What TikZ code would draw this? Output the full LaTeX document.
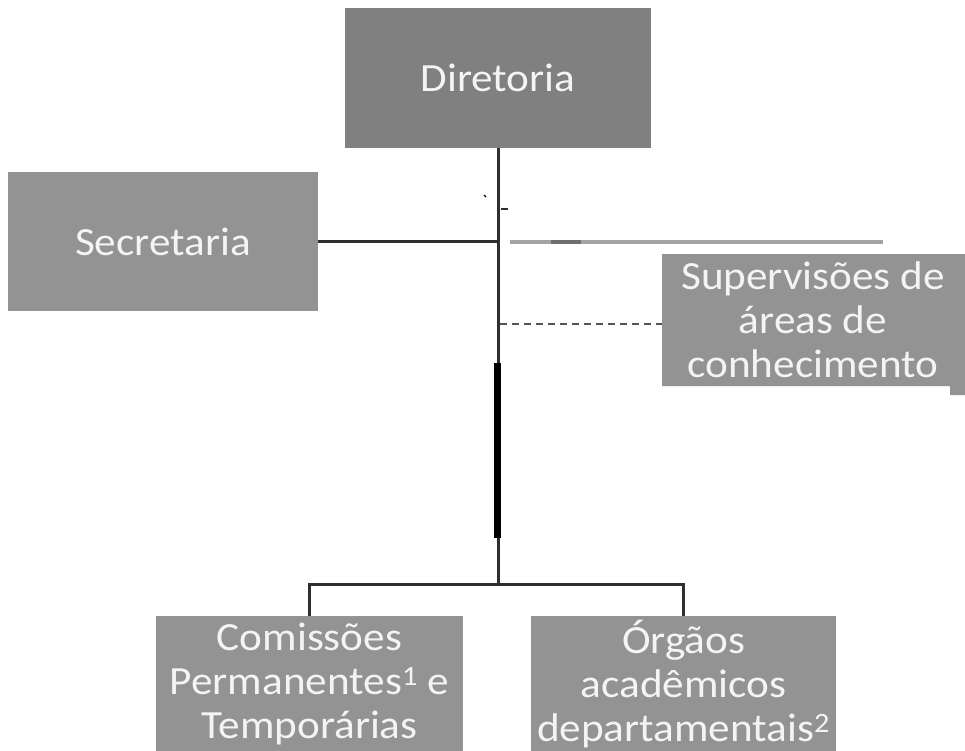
\documentclass[tikz,border=0pt]{standalone}
\usepackage{fontspec}
\setmainfont{Carlito}[FakeStretch=1.08]
\definecolor{topgray}{HTML}{808080}
\definecolor{boxgray}{HTML}{939393}
\definecolor{boxtext}{HTML}{F4F4F4}
\definecolor{linedark}{HTML}{2E2E2E}
\definecolor{lightline}{HTML}{A3A3A3}
\definecolor{midline}{HTML}{6E6E6E}
\definecolor{dashcol}{HTML}{555555}
\begin{document}
\begin{tikzpicture}[x=1pt,y=-1pt,
  orgbox/.style={fill=boxgray, text=boxtext, draw=none, inner sep=0pt,
    font=\fontsize{40}{44}\selectfont, align=center, minimum height=140pt},
  orgtext/.style={text=boxtext, inner sep=0pt,
    font=\fontsize{40}{44}\selectfont, align=center},
  conn/.style={draw=linedark, line width=3pt},
  thickconn/.style={draw=black, line width=7pt},
  dashconn/.style={draw=dashcol, line width=2.5pt, dash pattern=on 7pt off 5pt}]
\useasboundingbox (0,0) rectangle (965,751);
% boxes
\node[orgbox, fill=topgray, minimum width=306pt] (dir) at (498,78) {Diretoria};
\node[orgbox, minimum width=310pt, minimum height=139pt] (sec) at (163,241.5) {Secretaria};
\fill[boxgray] (662,254) -- (965,254) -- (965,395) -- (950,395) -- (950,386) -- (662,386) -- cycle;
\coordinate (supw) at (662,324);
\node[orgtext] (sup) at (813,320) {Supervisões de\\áreas de\\conhecimento};
\node[orgbox, minimum width=307pt, minimum height=136pt] (com) at (309.5,684) {Comissões\\Permanentes\textsuperscript{1} e\\Temporárias};
\node[orgbox, minimum width=305pt, minimum height=136pt] (org) at (683.5,684) {Órgãos\\acadêmicos\\departamentais\textsuperscript{2}};
% coordinates on the trunk
\coordinate (tsec) at (dir.south |- sec.east);
\coordinate (tsup) at (dir.south |- supw);
\coordinate (thk1) at ([xshift=-1pt]dir.south |- 0,363);
\coordinate (thk2) at ([xshift=-1pt]dir.south |- 0,538);
\coordinate (tbot) at (dir.south |- 0,584);
\coordinate (bl) at (com.north |- tbot);
\coordinate (br) at (org.north |- tbot);
\coordinate (gl1) at (510,242);
\coordinate (gl2) at (883,242);
\coordinate (gd1) at (551,242);
\coordinate (gd2) at (581,242);
% connectors
\draw[conn] (dir.south) -- (tbot);
\draw[thickconn] (thk1) -- (thk2);
\draw[conn] (sec.east) -- (tsec);
\draw[dashconn] ([xshift=2pt]tsup) -- (supw);
\draw[conn] (com.north) -- (bl) -- (br) -- (org.north);
\draw[lightline, line width=4pt] (gl1) -- (gl2);
\draw[midline, line width=4pt] (gd1) -- (gd2);
% small marks
\coordinate (m1) at (484,195);
\coordinate (m2) at (486,197);
\coordinate (m3) at (501,209);
\coordinate (m4) at (508,209);
\draw[black, line width=1.2pt] (m1) -- (m2);
\draw[linedark, line width=1.5pt] (m3) -- (m4);
\end{tikzpicture}
\end{document}
